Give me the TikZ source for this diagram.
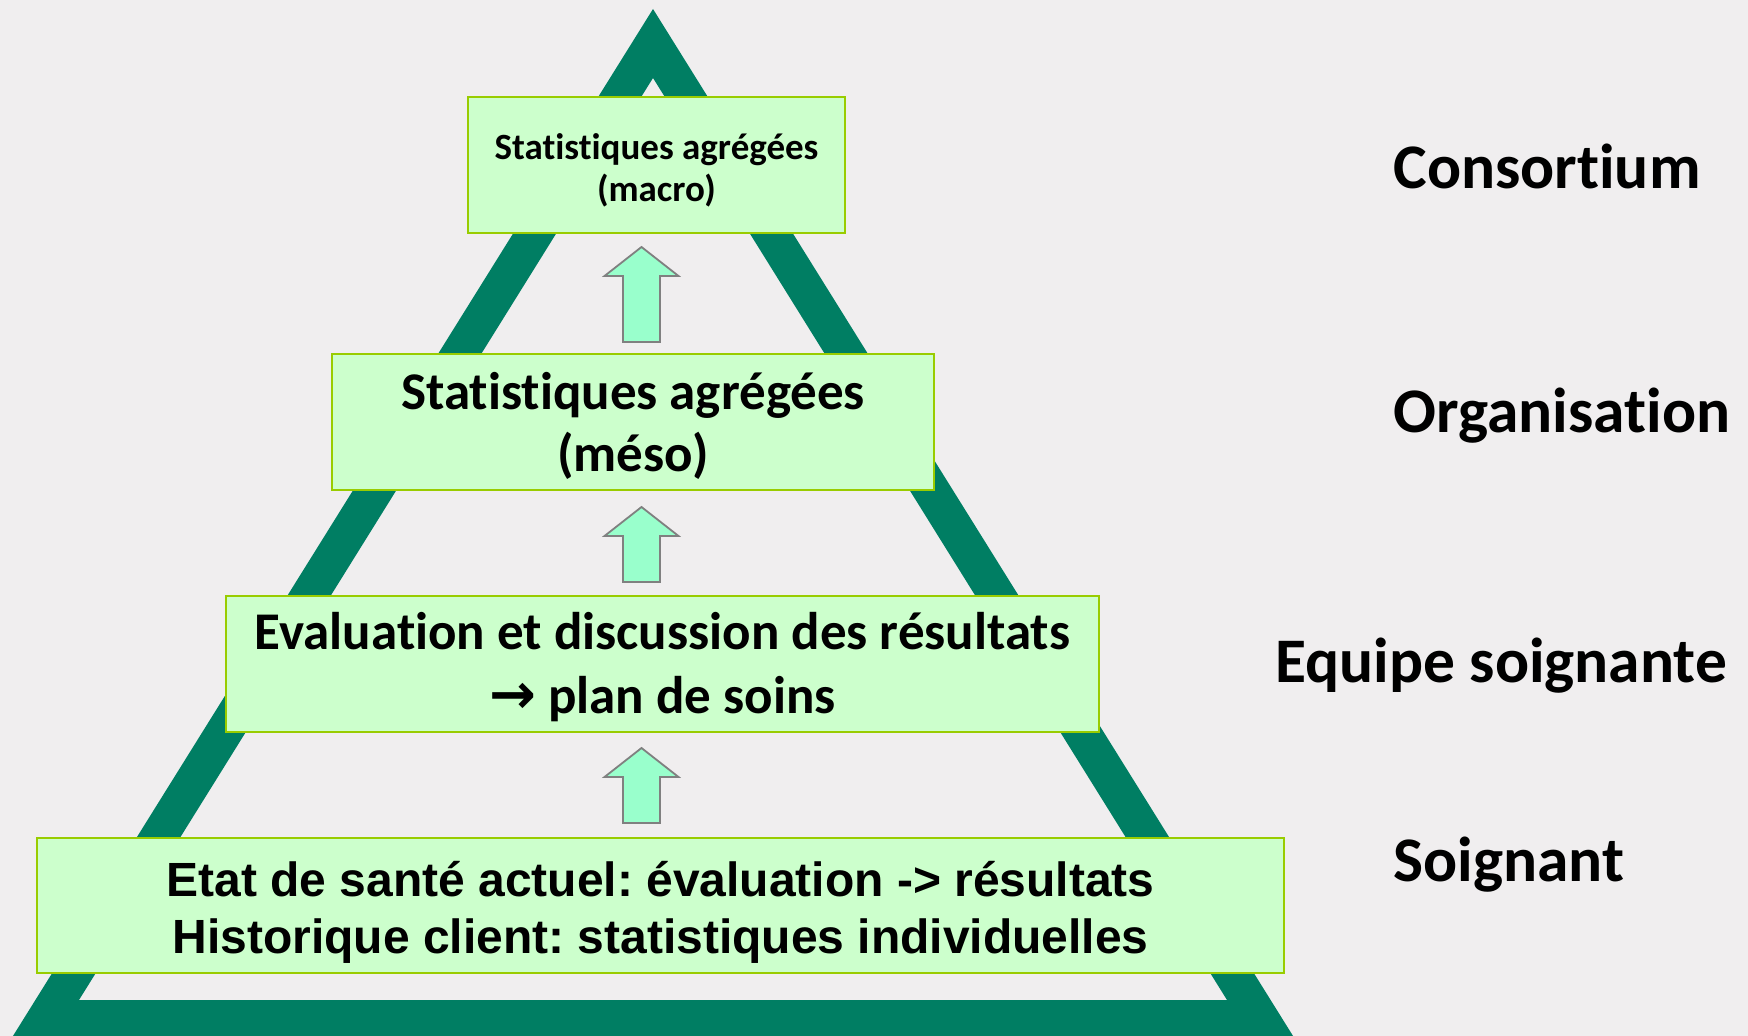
\documentclass[tikz,border=0pt]{standalone}
\usepackage{fontspec}
\setmainfont{Carlito}[Ligatures=NoCommon]
\newfontfamily\arialf{Liberation Sans}
\newfontfamily\djv{DejaVu Sans}
\frenchspacing
\definecolor{bgc}{RGB}{240,238,239}
\definecolor{tri}{RGB}{0,126,99}
\definecolor{boxfill}{RGB}{204,255,204}
\definecolor{boxline}{RGB}{153,204,0}
\definecolor{arrfill}{RGB}{153,255,204}
\definecolor{arrline}{RGB}{128,128,128}
\tikzset{
  lvlbox/.style={draw=boxline, fill=boxfill, line width=1.2pt, inner sep=0pt},
  lvltext/.style={inner sep=0pt, align=center},
  lvllabel/.style={anchor=base west, inner sep=0pt, font=\fontsize{31.75}{38}\selectfont\bfseries},
  uparr/.style={fill=arrfill, draw=arrline, line width=0.9pt, line join=miter}
}
\begin{document}
\frenchspacing
\begin{tikzpicture}[x=0.5pt,y=-0.5pt]
\useasboundingbox (0,0) rectangle (1748,1036);
\fill[bgc] (0,0) rectangle (1748,1036);
\begin{scope}
\clip (0,0) rectangle (1748,1036);
\fill[tri, even odd rule] (653,9) -- (-2,1060) -- (1308,1060) -- cycle
  (653,78) -- (79,1000) -- (1227,1000) -- cycle;
\end{scope}
% boxes
\node[lvlbox, minimum width=188.5pt, minimum height=68pt] (b1) at (656.5,165) {};
\node[lvlbox, minimum width=301pt, minimum height=68pt] (b2) at (633,422) {};
\node[lvlbox, minimum width=436.5pt, minimum height=68pt] (b3) at (662.5,664) {};
\node[lvlbox, minimum width=623.5pt, minimum height=67.5pt] (b4) at (660.5,905.5) {};
% box texts
\node[lvltext, font=\fontsize{18.5}{21}\selectfont\bfseries, yshift=-2.5pt] (t1) at (b1.center)
  {Statistiques agrégées\\(macro)};
\node[lvltext, font=\fontsize{26.5}{31}\selectfont\bfseries, yshift=-2pt] (t2) at (b2.center)
  {Statistiques agrégées\\(méso)};
\node[lvltext, font=\fontsize{26.5}{32}\selectfont\bfseries, yshift=-1.5pt] (t3) at (b3.center)
  {Evaluation et discussion des résultats\\{\djv\bfseries\fontsize{28}{32}\selectfont →} plan de soins};
\node[lvltext, font=\arialf\bfseries\fontsize{24}{28.5}\selectfont, yshift=-3.5pt] (t4) at (b4.center)
  {Etat de santé actuel: évaluation -> résultats\\Historique client: statistiques individuelles};
% block arrows (between boxes)
\foreach \ytip/\ybot in {247/342, 507/582, 748/823}{
  \pgfmathsetmacro{\yhb}{\ytip+29}
  \draw[uparr] (641.5,\ytip) -- (678.5,\yhb) -- (660,\yhb) -- (660,\ybot) -- (623,\ybot) -- (623,\yhb) -- (604.5,\yhb) -- cycle;
}
% right labels
\node[lvllabel] (l1) at (1393,189) {Consortium};
\node[lvllabel] (l2) at (1393,433) {Organisation};
\node[lvllabel] (l3) at (1275,682) {Equipe soignante};
\node[lvllabel] (l4) at (1393,881) {Soignant};
\end{tikzpicture}
\end{document}
